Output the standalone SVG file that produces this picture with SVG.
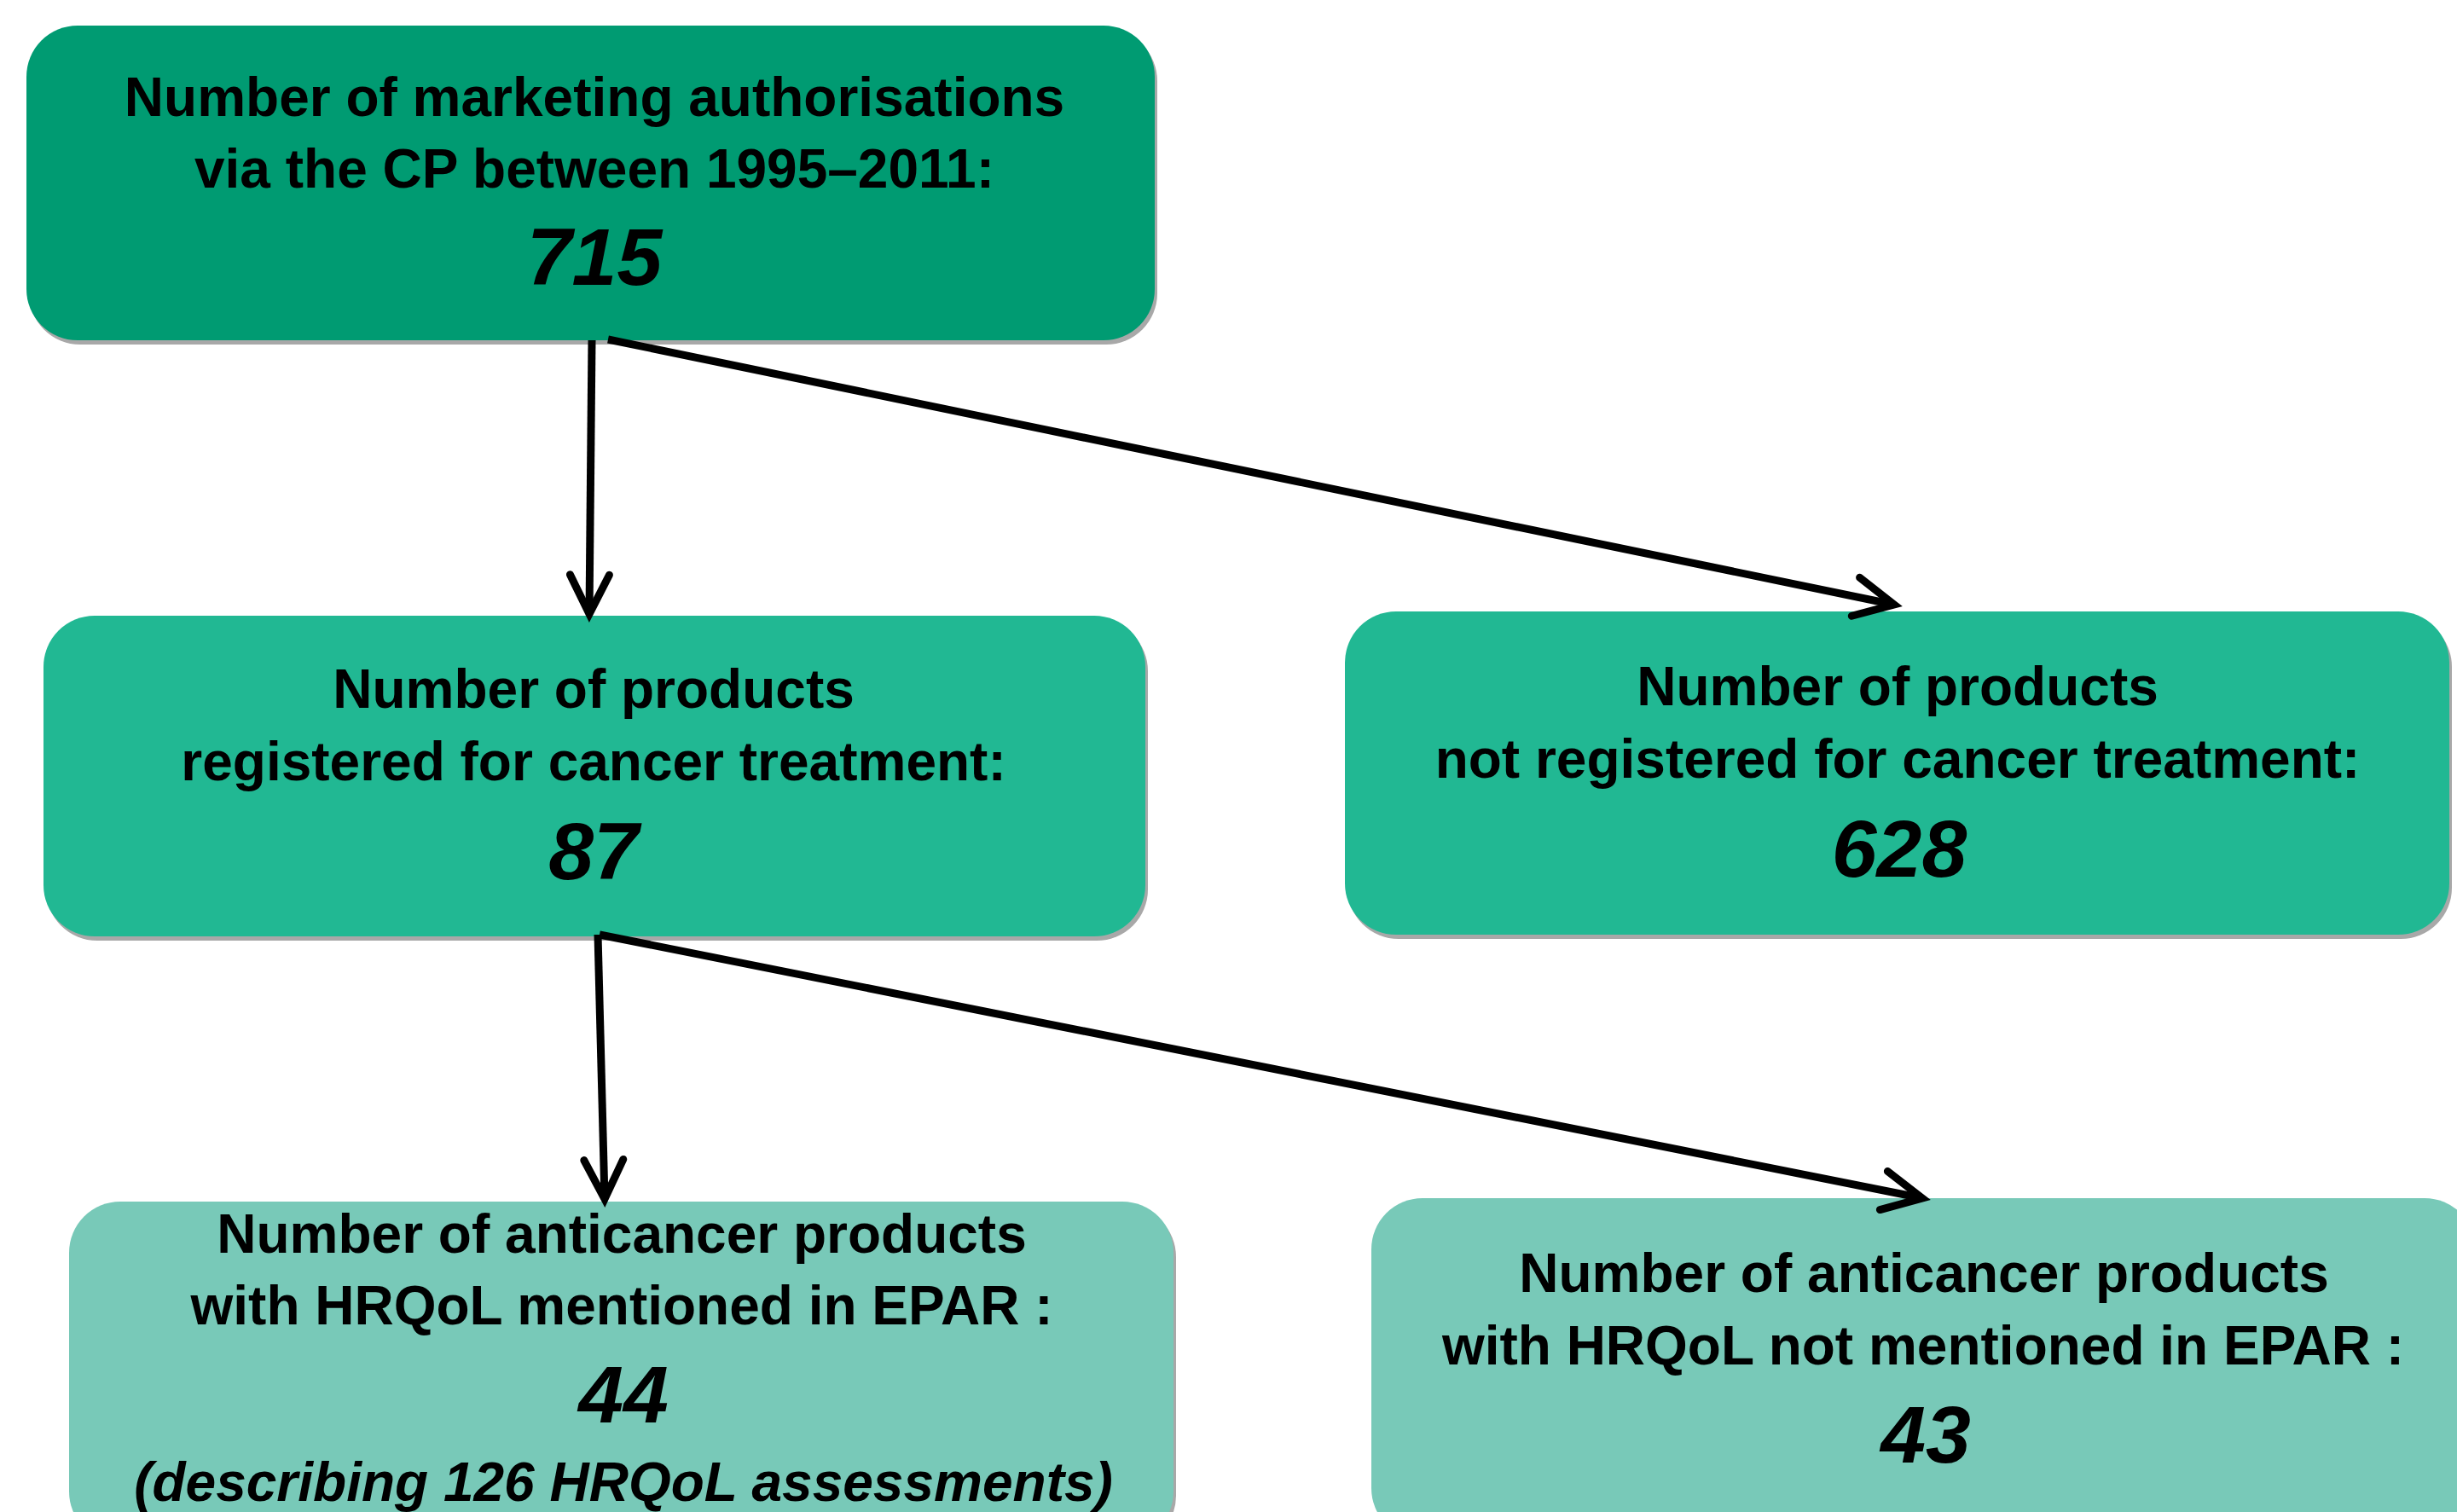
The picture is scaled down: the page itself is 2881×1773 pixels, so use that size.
<svg xmlns="http://www.w3.org/2000/svg" width="2881" height="1773" viewBox="0 0 2881 1773">
<style>
text{font-family:"Liberation Sans",Arial,sans-serif;font-weight:bold;fill:#000;text-anchor:middle}
.t{font-size:64px}
.n{font-size:95px;font-style:italic}
.i{font-size:64px;font-style:italic}
.sh{fill:#a8a8a8}
.c1{fill:#009B72}
.c2{fill:#21B893}
.c3{fill:#78C9B8}
.con{fill:none;stroke:#000;stroke-width:9}
</style>
<defs>
<marker id="arr" markerUnits="userSpaceOnUse" viewBox="-60 -40 80 80" refX="0" refY="0" markerWidth="80" markerHeight="80" orient="auto">
<path d="M-46,-23 L0,0 L-46,23" fill="none" stroke="#000" stroke-width="9" stroke-linecap="round"/>
</marker>
</defs>
<rect width="2881" height="1773" fill="#fff"/>
<g id="node-top">
<rect class="sh" x="34" y="35" width="1323" height="369" rx="60"/>
<rect class="c1" x="31" y="30" width="1323" height="369" rx="60"/>
<text class="t" x="697" y="136">Number of marketing authorisations</text>
<text class="t" x="697" y="220">via the CP between 1995–2011:</text>
<text class="n" x="697" y="334">715</text>
</g>
<g id="node-cancer">
<rect class="sh" x="54" y="727" width="1292" height="376" rx="60"/>
<rect class="c2" x="51" y="722" width="1292" height="376" rx="60"/>
<text class="t" x="696" y="830">Number of products</text>
<text class="t" x="696" y="915">registered for cancer treatment:</text>
<text class="n" x="696" y="1031">87</text>
</g>
<g id="node-notcancer">
<rect class="sh" x="1580" y="722" width="1295" height="379" rx="60"/>
<rect class="c2" x="1577" y="717" width="1295" height="379" rx="60"/>
<text class="t" x="2225" y="827">Number of products</text>
<text class="t" x="2225" y="912">not registered for cancer treatment:</text>
<text class="n" x="2227" y="1028">628</text>
</g>
<g id="node-hrqol">
<rect class="sh" x="84" y="1414" width="1295" height="400" rx="60"/>
<rect class="c3" x="81" y="1409" width="1295" height="400" rx="60"/>
<text class="t" x="729" y="1469">Number of anticancer products</text>
<text class="t" x="729" y="1553">with HRQoL mentioned in EPAR :</text>
<text class="n" x="731" y="1668">44</text>
<text class="i" x="731" y="1760">(describing 126 HRQoL assessments)</text>
</g>
<g id="node-nohrqol">
<rect class="sh" x="1611" y="1410" width="1295" height="400" rx="60"/>
<rect class="c3" x="1608" y="1405" width="1295" height="400" rx="60"/>
<text class="t" x="2256" y="1515">Number of anticancer products</text>
<text class="t" x="2255" y="1600">with HRQoL not mentioned in EPAR :</text>
<text class="n" x="2258" y="1715">43</text>
</g>
<g id="connectors">
<line class="con" x1="694" y1="399" x2="691" y2="720" marker-end="url(#arr)"/>
<line class="con" x1="713" y1="398" x2="2221" y2="709" marker-end="url(#arr)"/>
<line class="con" x1="701" y1="1096" x2="709" y2="1406" marker-end="url(#arr)"/>
<line class="con" x1="703" y1="1096" x2="2254" y2="1405" marker-end="url(#arr)"/>
</g>
</svg>
